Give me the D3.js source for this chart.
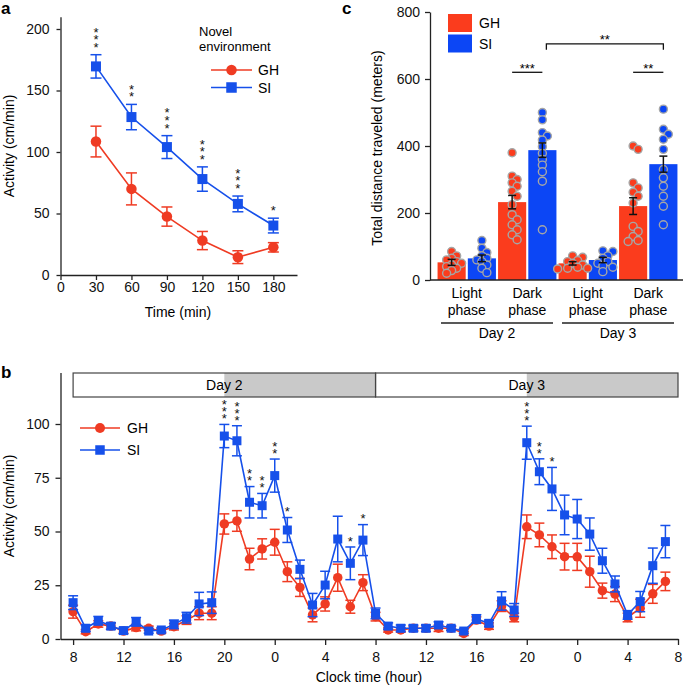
<!DOCTYPE html>
<html><head><meta charset="utf-8">
<script src="https://cdn.jsdelivr.net/npm/d3@7"></script>
<style>body{margin:0;background:#fff} svg{display:block}</style>
</head><body><svg id="chart" width="685" height="686"></svg>
<script>
// ---------------- DATA ----------------
// Panel a
const aTimes = [30, 60, 90, 120, 150, 180];
const aXTicks = [0, 30, 60, 90, 120, 150, 180];
const aYTicks = [0, 50, 100, 150, 200];
const aGH = [108.5, 70, 47.5, 28, 14.5, 22.5];
const aGHerr = [12.5, 13, 7.8, 7.4, 5.2, 3.8];
const aSI = [169.6, 128.4, 104, 78, 57.8, 40.2];
const aSIerr = [9.5, 10.3, 9.3, 9.9, 6.4, 6];
const aStars = [3, 2, 3, 3, 3, 1];
const aLegendTitle = ["Novel", "environment"];
const seriesNames = ["GH", "SI"];

// Panel b (hours since day-2 midnight, 8..55)
const bHours = d3.range(8, 56);
const bXTicks = [8, 12, 16, 20, 24, 28, 32, 36, 40, 44, 48, 52, 56];
const bYTicks = [0, 25, 50, 75, 100];
const bGH = [12.7, 3.4, 7, 6, 3.7, 5.3, 5, 3.7, 5.7, 8.8, 12, 12, 53.5, 54.9, 37.2, 41.9, 45, 31.3, 24, 11.2, 16.3, 28.5, 15, 26.2,
             10.4, 4.2, 4.2, 5, 5, 5, 5, 2.6, 8.8, 6, 15.3, 10, 52.2, 48.4, 42.9, 38.3, 38.2, 31.3, 22.5, 20.9, 10, 14.3, 21, 26.8];
const bGHerr = [3, 1, 1.5, 1.5, 1, 1.5, 1, 1, 1.5, 2, 3, 3, 4.7, 4.8, 5, 4.7, 6, 4.6, 4.2, 3.2, 3.3, 6.3, 3, 3.7,
                2, 1, 1, 1, 1.5, 1.5, 1, 1, 1.5, 1.5, 2.5, 2, 5.5, 5.5, 5.5, 6.2, 6.3, 7.2, 3.5, 3.5, 2, 4.2, 4.4, 4.3];
const bSI = [16.9, 5, 8.5, 6, 3.9, 8, 3.7, 4.2, 6.8, 9.9, 16.3, 16.9, 94.4, 92.2, 63.6, 62, 76, 50.7, 32.4, 15.8, 25.1, 46.5, 35.2, 46,
             11.9, 6, 5, 5, 5, 6.5, 5, 3.7, 9.3, 7.3, 17.7, 13.5, 91.3, 77.8, 69.8, 57.7, 55.8, 48.8, 36.4, 25.6, 11.2, 17.4, 34.1, 45.3];
const bSIerr = [3.2, 1.5, 2, 1.5, 1.5, 2, 1, 1, 2, 2.5, 5.4, 5, 5.4, 7, 7.3, 5.7, 7.7, 5.8, 4.3, 5.4, 6.4, 10.6, 7.6, 7.2,
                2.5, 1.5, 1.5, 1.5, 1.5, 1.5, 1, 1, 2, 1.5, 4.3, 3, 7.7, 6, 10, 9.2, 9.1, 7.5, 5.8, 3.7, 2, 4.7, 8.2, 7.5];
const bStarHours = [20, 21, 22, 23, 24, 25, 30, 31, 44, 45, 46];
const bStarCounts = [3, 3, 2, 2, 2, 1, 1, 1, 3, 2, 1];
const bDays = ["Day 2", "Day 3"];
const bDayStart = [8, 32];
const bDarkStart = [20, 44];
const bDayEnd = [32, 56];

// Panel c
const cGroups = ["L2", "D2", "L3", "D3"];
const cLabel1 = ["Light", "Dark", "Light", "Dark"];
const cLabel2 = ["phase", "phase", "phase", "phase"];
const cDays = ["Day 2", "Day 3"];
const cYTicks = [0, 200, 400, 600, 800];
const cGHmean = [52.7, 232.5, 49.7, 220.6];
const cGHerr = [9, 20, 5, 25];
const cSImean = [64.6, 387.6, 59.6, 345.8];
const cSIerr = [10, 21.5, 8, 24];
const cGHdots = [
  [85, 72, 65, 60, 55, 50, 45, 40, 35, 28, 20],
  [380, 310, 300, 290, 280, 265, 250, 225, 195, 180, 165, 150, 135, 120],
  [72, 68, 58, 55, 50, 45, 38, 35, 35, 33],
  [400, 390, 290, 275, 262, 250, 230, 160, 145, 130, 118, 115]
];
const cSIdots = [
  [118, 95, 82, 72, 65, 60, 55, 45, 35, 22],
  [500, 478, 440, 430, 418, 398, 378, 360, 343, 323, 295, 150],
  [87, 85, 72, 65, 55, 50, 42, 38, 25],
  [510, 450, 435, 420, 390, 330, 305, 280, 250, 220, 165]
];
const cSig = [{from: ["D2", "GH"], to: ["D2", "SI"], level: 620, text: "***"},
              {from: ["D3", "GH"], to: ["D3", "SI"], level: 620, text: "**"}];
const cBigSig = {from: ["D2", "SI"], to: ["D3", "SI"], level: 705, text: "**"};

// ---------------- STYLE ----------------
const FONT = '"Liberation Sans", Arial, Helvetica, sans-serif';
const RED = "#ef3b23", BLUE = "#1650ea";
const BAR_RED = "#fb3c1d", BAR_BLUE = "#0c46f5";
const AX = "#222";
const colors = {GH: RED, SI: BLUE};

const svg = d3.select("#chart").attr("font-family", FONT);
svg.append("rect").attr("width", 685).attr("height", 686).attr("fill", "#fff");

function styleAxis(g) {
  g.select(".domain").attr("stroke", AX).attr("stroke-width", 1.3);
  g.selectAll(".tick line").attr("stroke", AX).attr("stroke-width", 1.3);
  g.selectAll(".tick text").attr("font-size", 14).attr("fill", "#111").attr("font-family", FONT);
}

function errorBars(g, xs, ys, errs, x, y, color, half, sw) {
  const eg = g.append("g").attr("stroke", color).attr("stroke-width", sw).attr("fill", "none");
  xs.forEach((xv, i) => {
    const cx = x(xv), y1 = y(ys[i] + errs[i]), y2 = y(ys[i] - errs[i]);
    eg.append("line").attr("x1", cx).attr("x2", cx).attr("y1", y1).attr("y2", y2);
    eg.append("line").attr("x1", cx - half).attr("x2", cx + half).attr("y1", y1).attr("y2", y1);
    eg.append("line").attr("x1", cx - half).attr("x2", cx + half).attr("y1", y2).attr("y2", y2);
  });
}

function marker(g, name, cx, cy, size) {
  if (name === "GH") {
    g.append("circle").attr("cx", cx).attr("cy", cy).attr("r", size / 2).attr("fill", colors.GH);
  } else {
    g.append("rect").attr("x", cx - size / 2).attr("y", cy - size / 2).attr("width", size).attr("height", size).attr("fill", colors.SI);
  }
}

function series(g, xs, ys, errs, x, y, name, size, capHalf) {
  errorBars(g, xs, ys, errs, x, y, colors[name], capHalf, 1.5);
  g.append("path").datum(xs.map((t, i) => [t, ys[i]]))
    .attr("fill", "none").attr("stroke", colors[name]).attr("stroke-width", 1.6)
    .attr("d", d3.line().x(d => x(d[0])).y(d => y(d[1])));
  xs.forEach((t, i) => marker(g, name, x(t), y(ys[i]), size));
}

// stacked asterisks as ONE vertical text; bottom star centred near bottomCenter
function stars(g, cx, bottomCenter, n, spacing) {
  const fs = 13;
  g.append("text")
    .attr("x", cx).attr("y", bottomCenter - (n - 1) * spacing - 0.4 * fs)
    .attr("font-size", fs).attr("fill", "#111")
    .attr("writing-mode", "vertical-rl")
    .style("text-orientation", "upright")
    .style("letter-spacing", (spacing - 1.149 * fs).toFixed(2) + "px")
    .text("*".repeat(n));
}

// ---------------- PANEL A ----------------
{
  const g = svg.append("g");
  const x = d3.scaleLinear().domain([0, 200]).range([60.5, 297]);
  const y = d3.scaleLinear().domain([0, 210]).range([275, 16.7]);
  g.append("g").attr("transform", "translate(0,275)")
    .call(d3.axisBottom(x).tickValues(aXTicks).tickSize(5).tickSizeOuter(0).tickPadding(2)).call(styleAxis);
  g.append("g").attr("transform", "translate(60.5,0)")
    .call(d3.axisLeft(y).tickValues(aYTicks).tickSize(4).tickSizeOuter(0).tickPadding(7)).call(styleAxis);
  series(g, aTimes, aGH, aGHerr, x, y, "GH", 10.5, 5.5);
  series(g, aTimes, aSI, aSIerr, x, y, "SI", 10, 5.5);
  aTimes.forEach((t, i) => stars(g, x(t), y(aSI[i] + aSIerr[i]) - 10, aStars[i], 7.5));
  g.append("text").attr("x", 178).attr("y", 317).attr("text-anchor", "middle").attr("font-size", 14).text("Time (min)");
  g.append("text").attr("transform", "translate(14,146) rotate(-90)").attr("text-anchor", "middle").attr("font-size", 14).text("Activity (cm/min)");
  g.append("text").attr("x", 1).attr("y", 14).attr("font-size", 17).attr("font-weight", "bold").text("a");
  // legend
  aLegendTitle.forEach((s, i) => g.append("text").attr("x", 199).attr("y", 36 + i * 15).attr("font-size", 13).text(s));
  seriesNames.forEach((n, i) => {
    const ly = 70 + i * 17.5;
    g.append("line").attr("x1", 211).attr("x2", 252).attr("y1", ly).attr("y2", ly).attr("stroke", colors[n]).attr("stroke-width", 1.6);
    marker(g, n, 231.5, ly, 10.5);
    g.append("text").attr("x", 258).attr("y", ly + 5).attr("font-size", 14).text(n);
  });
}

// ---------------- PANEL B ----------------
{
  const g = svg.append("g");
  const x = d3.scaleLinear().domain([7, 56]).range([60.5, 678]);
  const y = d3.scaleLinear().domain([0, 124]).range([639, 372.4]);
  // day bands
  bDays.forEach((d, i) => {
    const top = 373, h = 24;
    g.append("rect").attr("x", x(bDarkStart[i])).attr("y", top).attr("width", x(bDayEnd[i]) - x(bDarkStart[i])).attr("height", h).attr("fill", "#c9c9c9");
    g.append("rect").attr("x", x(bDayStart[i])).attr("y", top).attr("width", x(bDayEnd[i]) - x(bDayStart[i])).attr("height", h)
      .attr("fill", "none").attr("stroke", "#444").attr("stroke-width", 1.2);
    g.append("text").attr("x", x(bDarkStart[i])).attr("y", top + 17).attr("text-anchor", "middle").attr("font-size", 14).text(d);
  });
  g.append("g").attr("transform", "translate(0,639)")
    .call(d3.axisBottom(x).tickValues(bXTicks).tickFormat(d => d % 24).tickSize(6).tickSizeOuter(0).tickPadding(7)).call(styleAxis);
  g.append("g").attr("transform", "translate(60.5,0)")
    .call(d3.axisLeft(y).tickValues(bYTicks).tickSize(5).tickSizeOuter(0).tickPadding(6)).call(styleAxis);
  series(g, bHours, bGH, bGHerr, x, y, "GH", 9.5, 5);
  series(g, bHours, bSI, bSIerr, x, y, "SI", 9, 5);
  bStarHours.forEach((h, k) => {
    const i = bHours.indexOf(h);
    stars(g, x(h), y(bSI[i] + bSIerr[i]) - 8, bStarCounts[k], 7);
  });
  g.append("text").attr("x", 369).attr("y", 682).attr("text-anchor", "middle").attr("font-size", 14).text("Clock time (hour)");
  g.append("text").attr("transform", "translate(14,506) rotate(-90)").attr("text-anchor", "middle").attr("font-size", 14).text("Activity (cm/min)");
  g.append("text").attr("x", 1).attr("y", 378).attr("font-size", 17).attr("font-weight", "bold").text("b");
  seriesNames.forEach((n, i) => {
    const ly = 428 + i * 22;
    g.append("line").attr("x1", 80).attr("x2", 120).attr("y1", ly).attr("y2", ly).attr("stroke", colors[n]).attr("stroke-width", 1.6);
    marker(g, n, 100, ly, n === "GH" ? 10 : 9.5);
    g.append("text").attr("x", 127).attr("y", ly + 5).attr("font-size", 14).text(n);
  });
}

// ---------------- PANEL C ----------------
{
  const g = svg.append("g");
  const x0 = d3.scaleBand().domain(cGroups).range([436.5, 678.5]);
  const x1 = d3.scaleBand().domain(seriesNames).range([0, x0.bandwidth()]).paddingInner(0.07).paddingOuter(0.035);
  const y = d3.scaleLinear().domain([0, 800]).range([280, 12]);
  const bw = x1.bandwidth();
  const barColor = {GH: BAR_RED, SI: BAR_BLUE};
  const means = {GH: cGHmean, SI: cSImean};
  const errs = {GH: cGHerr, SI: cSIerr};
  const dots = {GH: cGHdots, SI: cSIdots};
  const cx = (grp, s) => x0(grp) + x1(s) + bw / 2;

  g.append("g").attr("transform", "translate(430,0)")
    .call(d3.axisLeft(y).tickValues(cYTicks).tickSize(5).tickSizeOuter(0).tickPadding(5)).call(styleAxis);

  cGroups.forEach((grp, gi) => {
    seriesNames.forEach(s => {
      g.append("rect").attr("x", x0(grp) + x1(s)).attr("y", y(means[s][gi])).attr("width", bw)
        .attr("height", 280 - y(means[s][gi])).attr("fill", barColor[s]);
    });
  });
  // x axis line
  g.append("line").attr("x1", 430).attr("x2", 683).attr("y1", 280).attr("y2", 280).attr("stroke", AX).attr("stroke-width", 1.5);

  // dots (simple beeswarm)
  const r = 4;
  cGroups.forEach((grp, gi) => {
    seriesNames.forEach(s => {
      const placed = [];
      const center = cx(grp, s);
      dots[s][gi].forEach(v => {
        const py = y(v);
        let off = 0;
        for (let k = 0; k < 12; k++) {
          const cand = k === 0 ? 0 : (k % 2 ? 1 : -1) * Math.ceil(k / 2) * 5;
          const ok = placed.every(p => Math.hypot(p[0] - (center + cand), p[1] - py) >= 5.2);
          if (ok) { off = cand; break; }
        }
        placed.push([center + off, py]);
      });
      placed.forEach(p => g.append("circle").attr("cx", p[0]).attr("cy", p[1]).attr("r", r)
        .attr("fill", barColor[s]).attr("stroke", "#a6a6a6").attr("stroke-width", 1.4));
    });
  });
  // error bars
  cGroups.forEach((grp, gi) => {
    seriesNames.forEach(s => {
      const xx = cx(grp, s), m = means[s][gi], e = errs[s][gi];
      const eg = g.append("g").attr("stroke", "#111").attr("stroke-width", 1.5);
      eg.append("line").attr("x1", xx).attr("x2", xx).attr("y1", y(m + e)).attr("y2", y(m - e));
      [m + e, m - e].forEach(v => eg.append("line").attr("x1", xx - 4).attr("x2", xx + 4).attr("y1", y(v)).attr("y2", y(v)));
    });
  });
  // category labels
  cGroups.forEach((grp, gi) => {
    const mx = x0(grp) + x0.bandwidth() / 2;
    g.append("text").attr("x", mx).attr("y", 298).attr("text-anchor", "middle").attr("font-size", 14).text(cLabel1[gi]);
    g.append("text").attr("x", mx).attr("y", 315).attr("text-anchor", "middle").attr("font-size", 14).text(cLabel2[gi]);
  });
  cDays.forEach((d, i) => {
    const a = x0(cGroups[i * 2]) + 4.5, b = x0(cGroups[i * 2 + 1]) + x0.bandwidth() - 4.5;
    g.append("line").attr("x1", a).attr("x2", b).attr("y1", 323).attr("y2", 323).attr("stroke", AX).attr("stroke-width", 1.3);
    g.append("text").attr("x", (a + b) / 2).attr("y", 338).attr("text-anchor", "middle").attr("font-size", 14).text(d);
  });
  // significance
  cSig.forEach(sg => {
    const a = cx(...sg.from), b = cx(...sg.to), yy = y(sg.level);
    g.append("line").attr("x1", a).attr("x2", b).attr("y1", yy).attr("y2", yy).attr("stroke", "#111").attr("stroke-width", 1.3);
    g.append("text").attr("x", (a + b) / 2).attr("y", yy + 0.5).attr("text-anchor", "middle").attr("font-size", 13).text(sg.text);
  });
  {
    const a = cx(...cBigSig.from) + 4, b = cx(...cBigSig.to), yy = y(cBigSig.level);
    g.append("path").attr("d", `M${a},${yy + 6}V${yy}H${b}V${yy + 6}`).attr("fill", "none").attr("stroke", "#111").attr("stroke-width", 1.3);
    g.append("text").attr("x", (a + b) / 2).attr("y", yy).attr("text-anchor", "middle").attr("font-size", 13).text(cBigSig.text);
  }
  // legend
  seriesNames.forEach((n, i) => {
    g.append("rect").attr("x", 448).attr("y", 14 + i * 20.5).attr("width", 24).attr("height", 18).attr("fill", barColor[n]);
    g.append("text").attr("x", 479).attr("y", 28 + i * 20.5).attr("font-size", 14).text(n);
  });
  g.append("text").attr("transform", "translate(382,148) rotate(-90)").attr("text-anchor", "middle").attr("font-size", 14).text("Total distance traveled (meters)");
  g.append("text").attr("x", 342).attr("y", 14).attr("font-size", 17).attr("font-weight", "bold").text("c");
}
</script></body></html>
